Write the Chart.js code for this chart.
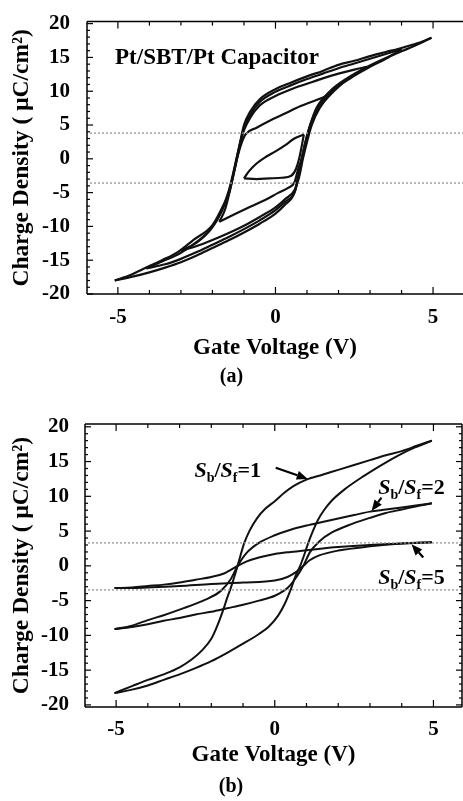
<!DOCTYPE html>
<html><head><meta charset="utf-8">
<script src="https://cdn.jsdelivr.net/npm/chart.js@4.4.1/dist/chart.umd.min.js"></script>
<style>
html,body{margin:0;padding:0;background:#fff;overflow:hidden;width:463px;height:801px;}
.wrap{position:absolute;left:0;width:463px;}
#wa{top:0;height:400px;}
#wb{top:400px;height:401px;}
canvas{display:block;}
</style></head><body>
<div class="wrap" id="wa"><canvas id="ca" width="463" height="400"></canvas></div>
<div class="wrap" id="wb"><canvas id="cb" width="463" height="401"></canvas></div>
<script>
const FONT = '"Liberation Serif", "Times New Roman", serif';
const xTitle = 'Gate Voltage (V)';
const yTitle = 'Charge Density ( \u03bcC/cm\u00b2)';
const voltageTicks = [-5, 0, 5];
const chargeTicks = [-20, -15, -10, -5, 0, 5, 10, 15, 20];
const scanLinesA = [3.8, -3.6];
const scanLinesB = [3.3, -3.45];

// ---- Panel (a): Pt/SBT/Pt capacitor, loops of several amplitudes  [V, Q] ----
const a5Upper = [[-5.1,-18.0],[-4.6,-17.2],[-4.2,-16.3],[-3.6,-15.0],[-3.1,-13.8],[-2.6,-12.0],[-2.0,-9.8],[-1.7,-7.3],[-1.48,-5.0],[-1.35,-2.5],[-1.23,0.0],[-1.12,2.5],[-1.0,5.0],[-0.8,7.0],[-0.5,8.8],[0.0,10.3],[0.5,11.3],[1.0,12.2],[1.5,13.0],[2.0,13.9],[2.5,14.5],[3.0,15.2],[3.5,15.8],[4.0,16.4],[4.5,17.1],[4.95,17.9]];
const a5Lower = [[-5.1,-18.0],[-4.5,-17.4],[-4.0,-16.8],[-3.5,-16.1],[-3.0,-15.3],[-2.5,-14.3],[-2.0,-13.2],[-1.5,-12.1],[-1.0,-10.9],[-0.5,-9.6],[0.0,-8.1],[0.3,-6.8],[0.6,-5.0],[0.72,-2.5],[0.83,0.0],[0.95,2.5],[1.1,5.0],[1.3,7.5],[1.73,10.0],[2.3,12.0],[2.83,13.4],[3.5,14.9],[4.0,15.9],[4.5,16.9],[4.95,17.9]];
const a4Upper = [[-4.1,-16.2],[-3.6,-15.2],[-3.0,-13.9],[-2.5,-12.3],[-2.0,-10.1],[-1.68,-7.5],[-1.47,-5.0],[-1.34,-2.5],[-1.22,0.0],[-1.11,2.5],[-0.98,4.8],[-0.78,6.7],[-0.5,8.4],[0.0,9.9],[0.5,10.9],[1.0,11.8],[1.5,12.6],[2.0,13.4],[2.5,14.1],[3.0,14.8],[3.5,15.5],[4.0,16.2]];
const a4Lower = [[-4.1,-16.2],[-3.5,-15.6],[-3.0,-14.8],[-2.5,-13.8],[-2.0,-12.7],[-1.5,-11.6],[-1.0,-10.4],[-0.5,-9.1],[0.0,-7.6],[0.3,-6.4],[0.62,-4.8],[0.74,-2.5],[0.85,0.0],[0.97,2.5],[1.12,5.0],[1.35,7.5],[1.8,10.0],[2.4,12.0],[3.0,13.6],[3.5,14.8],[4.0,16.2]];
const a3Upper = [[-3.0,-13.6],[-2.5,-12.4],[-2.05,-10.4],[-1.72,-7.8],[-1.5,-5.0],[-1.36,-2.5],[-1.24,0.0],[-1.13,2.2],[-1.0,4.2],[-0.8,6.1],[-0.5,7.9],[0.0,9.3],[0.5,10.3],[1.0,11.1],[1.5,11.9],[2.0,12.6],[2.5,13.2],[2.9,13.6]];
const a3Lower = [[-3.0,-13.6],[-2.5,-12.9],[-2.0,-12.0],[-1.5,-11.0],[-1.0,-9.9],[-0.5,-8.6],[0.0,-7.2],[0.3,-6.0],[0.62,-4.5],[0.76,-2.5],[0.87,0.0],[1.0,2.5],[1.15,5.0],[1.4,7.5],[1.85,10.0],[2.4,12.2],[2.9,13.6]];
const aMidUpper = [[-1.78,-9.3],[-1.6,-7.5],[-1.46,-5.0],[-1.34,-2.5],[-1.22,0.0],[-1.1,2.0],[-0.95,3.6],[-0.6,4.6],[-0.2,5.6],[0.3,6.7],[0.8,7.8],[1.3,8.7],[1.7,9.4]];
const aMidLower = [[-1.78,-9.3],[-1.3,-8.2],[-0.8,-7.1],[-0.33,-6.1],[0.1,-5.0],[0.4,-4.3],[0.6,-3.5],[0.72,-1.5],[0.83,0.0],[0.95,2.5],[1.1,5.0],[1.35,7.5],[1.7,9.4]];
const aInnerUpper = [[-1.0,-2.9],[-0.85,-1.9],[-0.6,-0.7],[-0.3,0.3],[0.0,1.1],[0.3,2.0],[0.6,3.0],[0.9,3.6]];
const aInnerLower = [[-1.0,-2.9],[-0.6,-3.0],[-0.2,-2.9],[0.2,-2.8],[0.5,-2.5],[0.65,-1.5],[0.75,0.0],[0.83,1.8],[0.9,3.6]];

// ---- Panel (b): ratio Sb/Sf = 1, 2, 5  [V, Q] ----
const b1Upper = [[-5.05,-18.3],[-4.5,-17.3],[-4.0,-16.4],[-3.5,-15.6],[-3.0,-14.6],[-2.6,-13.4],[-2.3,-12.2],[-2.0,-10.5],[-1.8,-8.5],[-1.6,-6.0],[-1.5,-4.6],[-1.38,-3.1],[-1.27,-1.5],[-1.17,0.0],[-1.08,1.5],[-0.96,3.3],[-0.8,5.0],[-0.55,6.9],[-0.3,8.2],[0.0,9.3],[0.3,10.5],[0.6,11.5],[1.0,12.4],[1.5,13.1],[2.0,13.8],[2.5,14.5],[3.0,15.2],[3.5,15.9],[4.0,16.5],[4.5,17.3],[4.95,18.0]];
const b1Lower = [[-5.05,-18.3],[-4.5,-17.8],[-4.0,-17.2],[-3.5,-16.4],[-3.0,-15.6],[-2.5,-14.7],[-2.0,-13.7],[-1.5,-12.5],[-1.0,-11.2],[-0.5,-9.8],[-0.2,-8.8],[0.1,-7.2],[0.3,-5.6],[0.52,-3.2],[0.65,-1.5],[0.8,0.0],[0.93,1.6],[1.04,3.1],[1.2,5.0],[1.36,6.6],[1.55,8.0],[1.8,9.4],[2.2,11.0],[2.8,12.9],[3.4,14.6],[3.9,15.9],[4.4,17.0],[4.95,18.0]];
const b2Upper = [[-5.05,-9.1],[-4.5,-8.6],[-4.0,-7.8],[-3.5,-7.1],[-3.0,-6.3],[-2.2,-4.9],[-1.7,-3.6],[-1.4,-2.0],[-1.17,0.0],[-0.9,1.8],[-0.5,3.3],[0.0,4.4],[0.5,5.2],[1.0,5.8],[1.5,6.3],[2.0,6.8],[2.5,7.3],[3.0,7.8],[3.5,8.1],[4.0,8.4],[4.5,8.7],[4.95,9.0]];
const b2Lower = [[-5.05,-9.1],[-4.5,-8.8],[-4.0,-8.4],[-3.5,-7.9],[-3.0,-7.5],[-2.5,-7.0],[-2.0,-6.6],[-1.5,-6.1],[-1.0,-5.6],[-0.5,-5.0],[0.0,-4.3],[0.4,-3.2],[0.7,-1.5],[0.9,0.0],[1.1,1.9],[1.4,3.5],[1.8,4.8],[2.3,5.8],[3.0,6.9],[3.5,7.6],[4.0,8.1],[4.5,8.6],[4.95,9.0]];
const b5Upper = [[-5.05,-3.2],[-4.5,-3.1],[-4.0,-2.9],[-3.5,-2.7],[-3.0,-2.4],[-2.5,-2.0],[-2.0,-1.6],[-1.6,-1.1],[-1.4,-0.6],[-1.17,0.0],[-0.9,0.6],[-0.5,1.2],[0.0,1.7],[0.5,2.0],[1.3,2.4],[2.0,2.7],[3.0,3.0],[4.0,3.2],[4.95,3.4]];
const b5Lower = [[-5.05,-3.2],[-4.5,-3.2],[-4.0,-3.1],[-3.0,-2.9],[-2.0,-2.6],[-1.0,-2.4],[0.0,-2.1],[0.4,-1.6],[0.7,-0.8],[0.9,0.0],[1.1,0.8],[1.4,1.5],[2.0,2.2],[3.0,2.8],[4.0,3.2],[4.95,3.4]];

function ds(arr, w) {
  return { data: arr.map(p => ({x: p[0], y: p[1]})), showLine: true, pointRadius: 0,
           borderColor: '#111', borderWidth: w, fill: false, cubicInterpolationMode: 'monotone' };
}

function seg(ctx, x1, y1, x2, y2) { ctx.beginPath(); ctx.moveTo(x1, y1); ctx.lineTo(x2, y2); ctx.stroke(); }

const framePlugin = {
  id: 'frame',
  afterDatasetsDraw(chart, args, opts) {
    const {ctx, chartArea: a, scales: {x, y}} = chart;
    ctx.save();
    ctx.strokeStyle = 'rgba(150,150,150,0.75)'; ctx.lineWidth = 1.6; ctx.setLineDash([2, 2]);
    (opts.scan || []).forEach(q => { const py = y.getPixelForValue(q); seg(ctx, a.left + 3, py, a.right, py); });
    ctx.setLineDash([]);
    ctx.strokeStyle = '#000'; ctx.lineWidth = 1.5;
    seg(ctx, a.left, a.top, a.right, a.top);
    seg(ctx, a.left, a.bottom, a.right, a.bottom);
    seg(ctx, a.left, a.top, a.left, a.bottom);
    if (opts.right) seg(ctx, a.right, a.top, a.right, a.bottom);
    ctx.lineWidth = 1.2;
    for (let v = Math.ceil(x.min); v <= Math.floor(x.max); v++) {
      const px = x.getPixelForValue(v); const L = v % 5 === 0 ? 7 : 4;
      seg(ctx, px, a.bottom, px, a.bottom - L); seg(ctx, px, a.top, px, a.top + L);
    }
    for (let q = Math.ceil(y.min); q <= Math.floor(y.max); q++) {
      const py = y.getPixelForValue(q); const L = q % 5 === 0 ? 6 : 3;
      seg(ctx, a.left, py, a.left + L, py);
      if (opts.right) seg(ctx, a.right, py, a.right - L, py);
    }
    ctx.restore();
  }
};

const textPlugin = {
  id: 'notes',
  afterDraw(chart, args, opts) {
    const {ctx, scales: {x, y}} = chart;
    ctx.save();
    ctx.fillStyle = '#000'; ctx.strokeStyle = '#000';
    (opts.plain || []).forEach(t => {
      ctx.font = 'bold 23px ' + FONT; ctx.textBaseline = 'alphabetic'; ctx.textAlign = 'left';
      ctx.fillText(t.text, x.getPixelForValue(t.v), y.getPixelForValue(t.q));
    });
    (opts.ratios || []).forEach(t => {
      let px = x.getPixelForValue(t.v); const py = y.getPixelForValue(t.q);
      ctx.textBaseline = 'alphabetic'; ctx.textAlign = 'left';
      const parts = [['italic bold 22px ', 'S', 0], ['bold 14px ', 'b', 5], ['bold 22px ', '/', 0],
                     ['italic bold 22px ', 'S', 0], ['bold 14px ', 'f', 5], ['bold 22px ', '=' + t.n, 0]];
      parts.forEach(([f, s, dy]) => { ctx.font = f + FONT; ctx.fillText(s, px, py + dy); px += ctx.measureText(s).width; });
    });
    (opts.arrows || []).forEach(ar => {
      const x1 = x.getPixelForValue(ar[0]), y1 = y.getPixelForValue(ar[1]);
      const x2 = x.getPixelForValue(ar[2]), y2 = y.getPixelForValue(ar[3]);
      const ang = Math.atan2(y2 - y1, x2 - x1), hl = 11, hw = 4.5;
      const bx = x2 - hl * Math.cos(ang), by = y2 - hl * Math.sin(ang);
      ctx.lineWidth = 2.2; seg(ctx, x1, y1, bx, by);
      ctx.beginPath(); ctx.moveTo(x2, y2);
      ctx.lineTo(bx + hw * Math.sin(ang), by - hw * Math.cos(ang));
      ctx.lineTo(bx - hw * Math.sin(ang), by + hw * Math.cos(ang));
      ctx.closePath(); ctx.fill();
    });
    ctx.restore();
  }
};

function options(c) {
  return {
    responsive: false, animation: false, devicePixelRatio: 1,
    layout: { padding: { left: 0, right: c.padR, top: c.top, bottom: 0 } },
    plugins: {
      legend: { display: false }, tooltip: { enabled: false },
      title: { display: true, text: c.panel, position: 'bottom', color: '#000',
               font: { family: FONT, size: 20, weight: 'bold' }, padding: { top: c.panelPadTop, bottom: c.panelPadBottom } },
      frame: { scan: c.scan, right: c.rightBorder }, notes: c.notes
    },
    scales: {
      x: { type: 'linear', min: -5.98, max: c.xmax,
           afterFit(s) { s.height = c.xh; },
           afterBuildTicks(s) { s.ticks = voltageTicks.map(v => ({ value: v })); },
           grid: { display: false }, border: { display: false },
           ticks: { color: '#000', padding: c.xPad, maxRotation: 0, font: { family: FONT, size: 21, weight: 'bold' } },
           title: { display: true, text: xTitle, color: '#000', font: { family: FONT, size: 23, weight: 'bold' },
                    padding: { top: 0, bottom: c.xTitlePad } } },
      y: { type: 'linear', min: c.ymin, max: c.ymax,
           afterFit(s) { s.width = c.yw; },
           afterBuildTicks(s) { s.ticks = chargeTicks.map(v => ({ value: v })); },
           grid: { display: false }, border: { display: false },
           ticks: { color: '#000', padding: c.yPad, font: { family: FONT, size: 21, weight: 'bold' } },
           title: { display: true, text: yTitle, color: '#000', font: { family: FONT, size: 23.5, weight: 'bold' },
                    padding: { top: 8, bottom: 0 } } }
    }
  };
}

new Chart(document.getElementById('ca'), {
  type: 'scatter',
  data: { datasets: [a5Upper, a5Lower, a4Upper, a4Lower, a3Upper, a3Lower, aMidUpper, aMidLower, aInnerUpper, aInnerLower].map(d => ds(d, 2.2)) },
  options: options({ panel: '(a)', top: 15, padR: 0, xmax: 5.95, rightBorder: false, xh: 70, xPad: 3, xTitlePad: 2.5, yw: 87, yPad: 9, ymin: -20, ymax: 20.3,
                     panelPadTop: 1, panelPadBottom: 11, scan: scanLinesA,
                     notes: { plain: [{ text: 'Pt/SBT/Pt Capacitor', v: -5.09, q: 14.1 }] } }),
  plugins: [framePlugin, textPlugin]
});

new Chart(document.getElementById('cb'), {
  type: 'scatter',
  data: { datasets: [b1Upper, b1Lower, b2Upper, b2Lower, b5Upper, b5Lower].map(d => ds(d, 2)) },
  options: options({ panel: '(b)', top: 24, padR: 1, xmax: 5.9, rightBorder: true, xh: 64, xPad: 2, xTitlePad: 2.5, yw: 85, yPad: 8, ymin: -20.3, ymax: 20.4,
                     panelPadTop: 4, panelPadBottom: 2, scan: scanLinesB,
                     notes: { ratios: [{ v: -2.53, q: 12.8, n: '1' }, { v: 3.26, q: 10.4, n: '2' }, { v: 3.26, q: -2.6, n: '5' }],
                              arrows: [[0.03, 14.1, 1.04, 12.5], [3.36, 9.8, 3.05, 7.9], [4.68, 1.2, 4.31, 3.1]] } }),
  plugins: [framePlugin, textPlugin]
});
</script>
</body></html>
